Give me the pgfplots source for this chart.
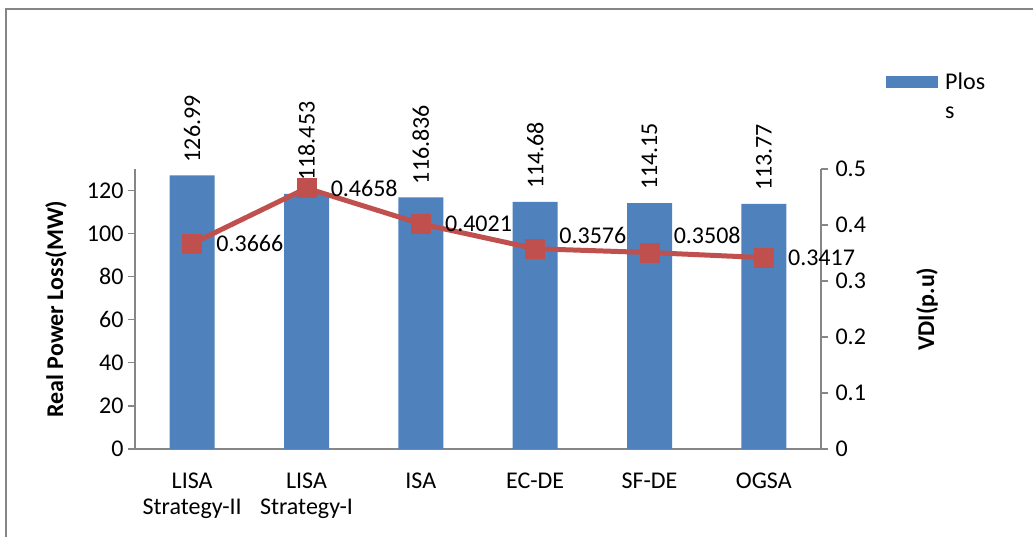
\documentclass[border=0pt]{standalone}
\usepackage{pgfplots}
\pgfplotsset{compat=1.18}
\usepackage{pgfplotstable}
\usepackage{fontspec}
\setmainfont{Carlito}
\definecolor{barblue}{HTML}{4F81BD}
\definecolor{linered}{HTML}{C0504D}
\definecolor{axgray}{HTML}{868686}

\pgfplotstableread{
x ploss label
0 126.99 126.99
1 118.453 118.453
2 116.836 116.836
3 114.68 114.68
4 114.15 114.15
5 113.77 113.77
}\plossdata

\pgfplotstableread{
x vdi label dy
0 0.3666 0.3666 0
1 0.4658 0.4658 0
2 0.4021 0.4021 0
3 0.3576 0.3576 13
4 0.3508 0.3508 17
5 0.3417 0.3417 0
}\vdidata

\newcommand{\chartfont}{\fontsize{24}{26}\selectfont}

\begin{document}
\begin{tikzpicture}[x=1pt,y=1pt]
\useasboundingbox (-135,-88) rectangle (898,449);
\draw[axgray, line width=2pt] (910,440) -- (-128.5,440) -- (-128.5,-100);
\pgfplotsset{
  common/.style={
    scale only axis, width=686pt, height=280pt,
    xmin=-0.5, xmax=5.5,
    axis line style={axgray, line width=1.3pt},
    tick style={axgray, line width=1.3pt},
    major tick length=7pt,
    tick align=outside,
    ticklabel style={font=\chartfont, text=black},
    label style={font=\bfseries\chartfont, text=black},
    clip=false,
    /pgf/number format/assume math mode=true,
  }
}
\begin{axis}[common, at={(0,0)}, anchor=south west,
  axis x line*=bottom, axis y line*=left,
  ymin=0, ymax=130, ytick={0,20,40,60,80,100,120},
  yticklabel style={xshift=-1pt},
  xtick={0,1,2,3,4,5},
  xticklabels={{LISA\\Strategy-II},{LISA\\Strategy-I},ISA,EC-DE,SF-DE,OGSA},
  xticklabel style={align=center, anchor=north, yshift=-13pt},
  xtick style={draw=none},
  ylabel={Real Power Loss(MW)},
  ylabel style={at={(axis description cs:-0.1152,0.5)}, anchor=center},
  legend style={at={(axis description cs:1.0948,1.35)}, anchor=north west,
    draw=none, fill=none, inner sep=0pt, font=\fontsize{24}{29}\selectfont,
    column sep=5pt, cells={align=left}},
]
\addplot[ybar, bar width=45pt, fill=barblue, draw=none,
  legend image code/.code={\fill[barblue] (0pt,9pt) rectangle (52pt,21pt);},
  nodes near coords, point meta=explicit symbolic,
  every node near coord/.append style={rotate=90, anchor=west,
    font=\chartfont, text=black, inner xsep=13pt}]
  table[x=x, y=ploss, meta=label] {\plossdata};
\addlegendentry{Plos\\s}
\end{axis}
\begin{axis}[common, at={(0,0)}, anchor=south west,
  axis x line=none, axis y line*=right,
  ymin=0, ymax=0.5, ytick={0,0.1,0.2,0.3,0.4,0.5},
  yticklabels={0,0.1,0.2,0.3,0.4,0.5},
  yticklabel style={xshift=4pt},
  ylabel={VDI(p.u)},
  ylabel style={at={(axis description cs:1.1545,0.5)}, anchor=center},
]
\addplot[linered, line width=5pt, mark=square*, mark size=9.5pt,
  mark options={solid, fill=linered, line width=0.5pt},
  visualization depends on={\thisrow{dy} \as \labeldy},
  nodes near coords, point meta=explicit symbolic,
  every node near coord/.append style={anchor=west, inner sep=0pt,
    xshift=24pt, yshift=\labeldy, font=\chartfont, text=black}]
  table[x=x, y=vdi, meta=label] {\vdidata};
\end{axis}
\end{tikzpicture}
\end{document}
